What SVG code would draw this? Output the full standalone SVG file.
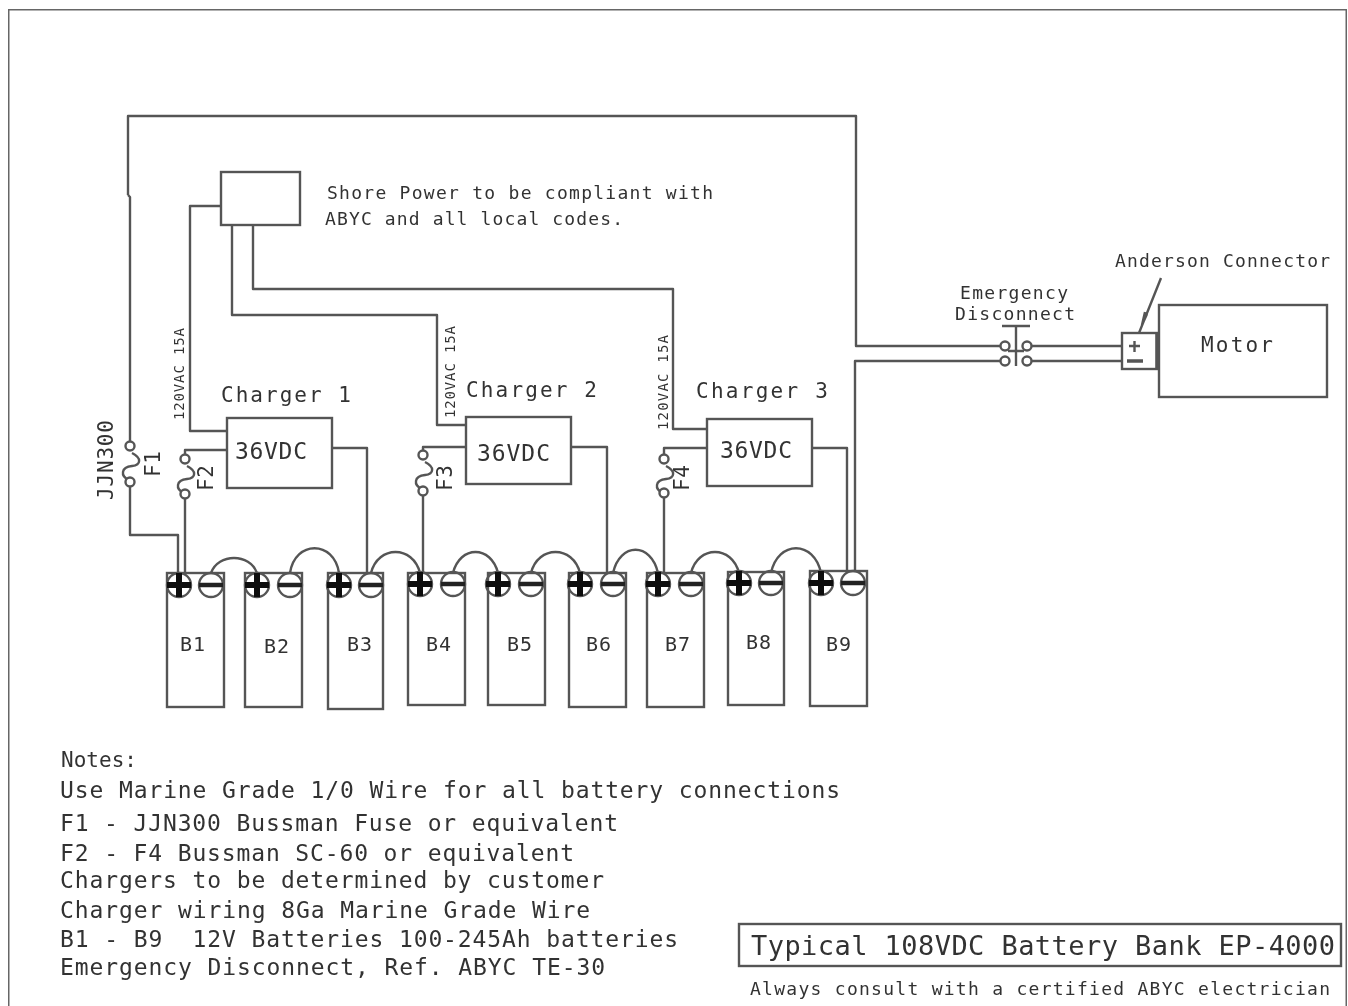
<svg xmlns="http://www.w3.org/2000/svg" width="1348" height="1006" viewBox="0 0 1348 1006">
<defs>
<style>
.w{fill:none;stroke:#555;stroke-width:2.4;stroke-linejoin:round}
.b{fill:#fff;stroke:#555;stroke-width:2.4}
.h{fill:none;stroke:#222;stroke-width:4.5}
.p{fill:none;stroke:#111;stroke-width:6}
text{font-family:"DejaVu Sans Mono","Liberation Mono",monospace;fill:#333;white-space:pre}
.s{font-size:18px}.m{font-size:21px}.l{font-size:23px}.x{font-size:27px}.t{font-size:14px}.n{font-size:20px}
</style>
<filter id="soft" x="0" y="0" width="100%" height="100%"><feGaussianBlur stdDeviation="0.6"/></filter>
<g id="plus"><circle r="12" class="w"/><path class="p" d="M-12 0H12M0-12V12"/></g>
<g id="minus"><circle r="12" class="w"/><path class="h" d="M-12 0H12"/></g>
<path id="fuse" class="w" d="M2 4C12 9 11 16 2 17C-9 18-10 27-1 31"/>
</defs>
<rect width="1348" height="1006" fill="#fff"/>
<g filter="url(#soft)">
<path id="border" d="M8 1006V9H1347V1006" fill="none" stroke="#666" stroke-width="3"/>
<g id="connectors">
<path class="w" d="M128 195V116H856V346H1000M1032 346H1122"/>
<path class="w" d="M128 195L130 197V441M130 487V535H178V573"/>
<path class="w" d="M221 206H190V431H227"/>
<path class="w" d="M232 225V315H437V425H466"/>
<path class="w" d="M253 225V289H673V429H707"/>
<path class="w" d="M227 450H185V454M185 499V573"/>
<path class="w" d="M466 447H423V450M423 496V573"/>
<path class="w" d="M707 448H664V454M664 498V573"/>
<path class="w" d="M332 448H367V573"/>
<path class="w" d="M571 447H607V573"/>
<path class="w" d="M810 448H847V573"/>
<path class="w" d="M855 573V361H1000M1032 361H1122"/>
<path class="w" d="M211 573C218 553 250 553 257 573M290 573C295 540 334 540 339 573M371 573C378 545 413 545 420 573M453 573C460 545 491 545 498 573M531 573C538 545 573 545 580 573M613 573C620 542 651 542 658 573M691 573C698 545 732 545 739 573M771 573C778 540 814 540 821 573"/>
<path class="w" d="M1161 278L1139 333M1145 312L1142 325L1147 314"/>
<path class="w" d="M1002 326H1030M1016 326V366M1008 351H1024"/>
</g>
<g id="shore"><rect class="b" x="221" y="172" width="79" height="53"/>
<text class="s" x="327" y="199" textLength="386">Shore Power to be compliant with</text>
<text class="s" x="325" y="225" textLength="298">ABYC and all local codes.</text></g>
<g id="charger1"><rect class="b" x="227" y="418" width="105" height="70"/><text class="m" x="221" y="402" textLength="130">Charger 1</text><text class="l" x="235" y="459" textLength="72">36VDC</text></g>
<g id="charger2"><rect class="b" x="466" y="417" width="105" height="67"/><text class="m" x="466" y="397" textLength="131">Charger 2</text><text class="l" x="477" y="461" textLength="73">36VDC</text></g>
<g id="charger3"><rect class="b" x="707" y="419" width="105" height="67"/><text class="m" x="696" y="398" textLength="132">Charger 3</text><text class="l" x="720" y="458" textLength="72">36VDC</text></g>
<g id="fuses">
<use href="#fuse" x="130" y="449"/><circle class="b" cx="130" cy="446" r="4.5"/><circle class="b" cx="130" cy="482" r="4.5"/>
<use href="#fuse" x="185" y="462"/><circle class="b" cx="185" cy="459" r="4.5"/><circle class="b" cx="185" cy="494" r="4.5"/>
<use href="#fuse" x="423" y="458"/><circle class="b" cx="423" cy="455" r="4.5"/><circle class="b" cx="423" cy="491" r="4.5"/>
<use href="#fuse" x="664" y="462"/><circle class="b" cx="664" cy="459" r="4.5"/><circle class="b" cx="664" cy="493" r="4.5"/>
<text class="m" transform="translate(113 500) rotate(-90)" textLength="80">JJN300</text>
<text class="m" transform="translate(160 477) rotate(-90)" textLength="26">F1</text>
<text class="m" transform="translate(213 491) rotate(-90)" textLength="26">F2</text>
<text class="m" transform="translate(452 491) rotate(-90)" textLength="26">F3</text>
<text class="m" transform="translate(689 491) rotate(-90)" textLength="26">F4</text>
<text class="t" transform="translate(184 420) rotate(-90)" textLength="92">120VAC 15A</text>
<text class="t" transform="translate(455 418) rotate(-90)" textLength="92">120VAC 15A</text>
<text class="t" transform="translate(668 430) rotate(-90)" textLength="95">120VAC 15A</text>
</g>
<g id="B1"><rect class="b" x="167" y="573" width="57" height="134"/><use href="#plus" x="179" y="585"/><use href="#minus" x="211" y="585"/><text class="n" x="180" y="651" textLength="25">B1</text></g>
<g id="B2"><rect class="b" x="245" y="573" width="57" height="134"/><use href="#plus" x="257" y="585"/><use href="#minus" x="290" y="585"/><text class="n" x="264" y="653" textLength="25">B2</text></g>
<g id="B3"><rect class="b" x="328" y="573" width="55" height="136"/><use href="#plus" x="339" y="585"/><use href="#minus" x="371" y="585"/><text class="n" x="347" y="651" textLength="25">B3</text></g>
<g id="B4"><rect class="b" x="408" y="573" width="57" height="132"/><use href="#plus" x="420" y="584"/><use href="#minus" x="453" y="584"/><text class="n" x="426" y="651" textLength="25">B4</text></g>
<g id="B5"><rect class="b" x="488" y="573" width="57" height="132"/><use href="#plus" x="498" y="584"/><use href="#minus" x="531" y="584"/><text class="n" x="507" y="651" textLength="25">B5</text></g>
<g id="B6"><rect class="b" x="569" y="573" width="57" height="134"/><use href="#plus" x="580" y="584"/><use href="#minus" x="613" y="584"/><text class="n" x="586" y="651" textLength="25">B6</text></g>
<g id="B7"><rect class="b" x="647" y="573" width="57" height="134"/><use href="#plus" x="658" y="584"/><use href="#minus" x="691" y="584"/><text class="n" x="665" y="651" textLength="25">B7</text></g>
<g id="B8"><rect class="b" x="728" y="572" width="56" height="133"/><use href="#plus" x="739" y="583"/><use href="#minus" x="771" y="583"/><text class="n" x="746" y="649" textLength="25">B8</text></g>
<g id="B9"><rect class="b" x="810" y="571" width="57" height="135"/><use href="#plus" x="821" y="583"/><use href="#minus" x="853" y="583"/><text class="n" x="826" y="651" textLength="25">B9</text></g>
<g id="disconnect">
<circle class="b" cx="1005" cy="346" r="4.5"/><circle class="b" cx="1027" cy="346" r="4.5"/><circle class="b" cx="1005" cy="361" r="4.5"/><circle class="b" cx="1027" cy="361" r="4.5"/>
<text class="s" x="960" y="299" textLength="108">Emergency</text><text class="s" x="955" y="320" textLength="120">Disconnect</text>
</g>
<g id="anderson"><rect class="b" x="1122" y="333" width="35" height="36"/><path class="w" d="M1129 346H1140M1134.500 341V352"/><path class="w" style="stroke-width:3.500" d="M1127 361H1143"/><path class="w" style="stroke-width:3.500" d="M1157 333V369"/>
<text class="s" x="1115" y="267" textLength="215">Anderson Connector</text></g>
<g id="motor"><rect class="b" x="1159" y="305" width="168" height="92"/><text class="m" x="1201" y="352" textLength="72">Motor</text></g>
<g id="notes">
<text class="m" x="61" y="767" textLength="76">Notes:</text>
<text class="l" x="60" y="798" textLength="780">Use Marine Grade 1/0 Wire for all battery connections</text>
<text class="l" x="60" y="831" textLength="558">F1 - JJN300 Bussman Fuse or equivalent</text>
<text class="l" x="60" y="861" textLength="514">F2 - F4 Bussman SC-60 or equivalent</text>
<text class="l" x="60" y="888" textLength="544">Chargers to be determined by customer</text>
<text class="l" x="60" y="918" textLength="530">Charger wiring 8Ga Marine Grade Wire</text>
<text class="l" x="60" y="947" textLength="618">B1 - B9  12V Batteries 100-245Ah batteries</text>
<text class="l" x="60" y="975" textLength="545">Emergency Disconnect, Ref. ABYC TE-30</text>
</g>
<g id="title"><rect class="b" x="739" y="924" width="602" height="42"/>
<text class="x" x="751" y="955" textLength="584">Typical 108VDC Battery Bank EP-4000</text>
<text class="s" x="750" y="995" textLength="580">Always consult with a certified ABYC electrician</text></g>
</g>
</svg>
